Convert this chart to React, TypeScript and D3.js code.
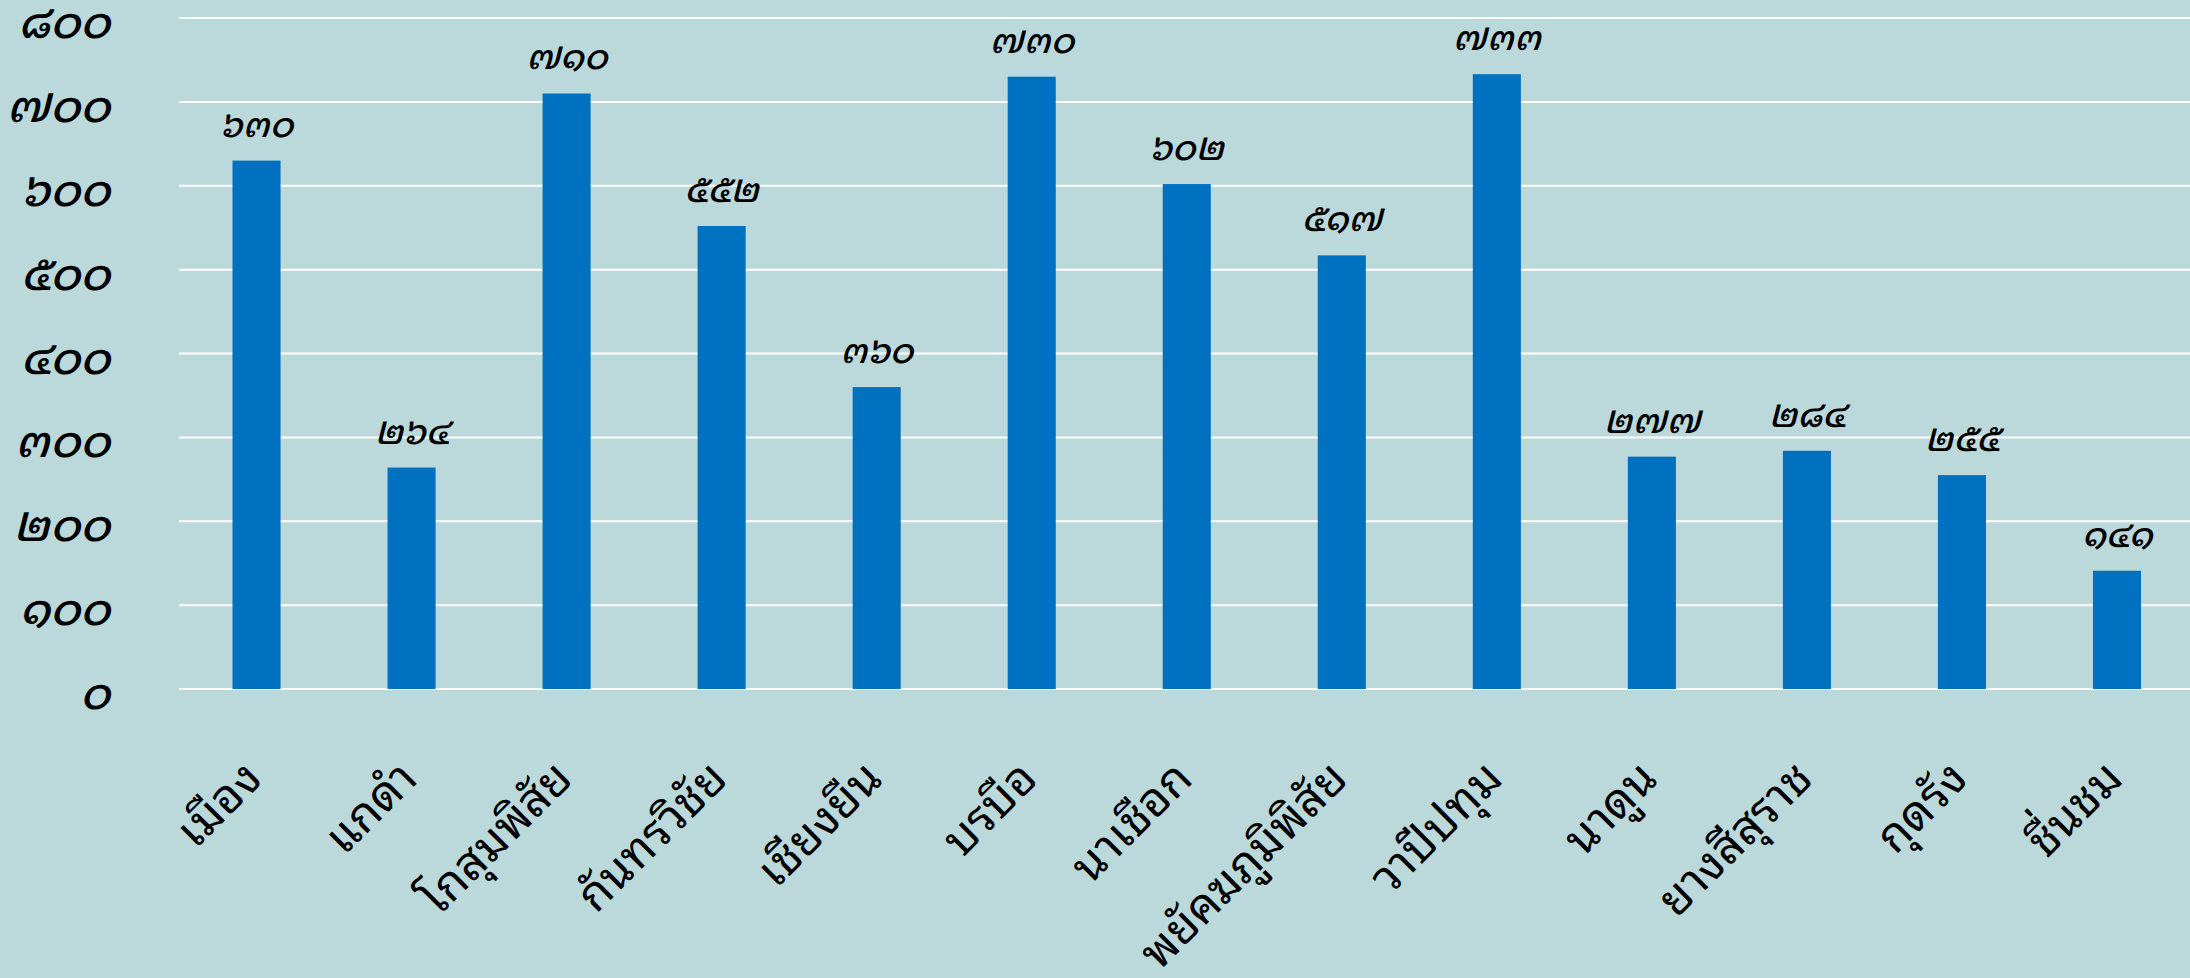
import React, { useEffect, useRef } from "react";
import * as d3 from "d3";

const categories = [
  "เมือง",
  "แกดำ",
  "โกสุมพิสัย",
  "กันทรวิชัย",
  "เชียงยืน",
  "บรบือ",
  "นาเชือก",
  "พยัคฆภูมิพิสัย",
  "วาปีปทุม",
  "นาดูน",
  "ยางสีสุราช",
  "กุดรัง",
  "ชื่นชม",
];
const values = [630, 264, 710, 552, 360, 730, 602, 517, 733, 277, 284, 255, 141];
const yTicks = [0, 100, 200, 300, 400, 500, 600, 700, 800];

const W = 2190;
const H = 978;
const THAI_FONT = "'Noto Sans Thai Looped', 'Noto Sans', sans-serif";

function thaiDigits(n: number): string {
  const d = "๐๑๒๓๔๕๖๗๘๙";
  return String(n).replace(/[0-9]/g, (c) => d[+c]);
}

export default function App() {
  const ref = useRef<SVGSVGElement | null>(null);

  useEffect(() => {
    const svg = d3.select(ref.current);
    svg.selectAll("*").remove();

    const left = 179;
    const right = 2194.5;
    const top = 18;
    const bottom = 689;

    const x = d3.scaleBand<string>().domain(categories).range([left, right]).paddingInner(0).paddingOuter(0);
    const y = d3.scaleLinear().domain([0, 800]).range([bottom, top]);
    const bw = x.bandwidth() * 0.31;

    svg.append("rect").attr("x", 0).attr("y", 0).attr("width", W).attr("height", H).attr("fill", "#BBD9DB");

    // gridlines
    svg
      .append("g")
      .selectAll("line")
      .data(yTicks)
      .join("line")
      .attr("x1", left)
      .attr("x2", W)
      .attr("y1", (d) => y(d))
      .attr("y2", (d) => y(d))
      .attr("stroke", "#ffffff")
      .attr("stroke-width", 2);

    // y tick labels
    svg
      .append("g")
      .selectAll("text")
      .data(yTicks)
      .join("text")
      .attr("x", 110)
      .attr("y", (d) => y(d) + 20)
      .attr("text-anchor", "end")
      .attr("font-family", THAI_FONT)
      .attr("font-style", "italic")
      .attr("font-weight", 500)
      .attr("font-size", 46)
      .attr("fill", "#000")
      .text((d) => thaiDigits(d));

    // bars
    svg
      .append("g")
      .selectAll("rect")
      .data(values)
      .join("rect")
      .attr("x", (d, i) => (x(categories[i]) as number) + x.bandwidth() / 2 - bw / 2)
      .attr("y", (d) => y(d))
      .attr("width", bw)
      .attr("height", (d) => bottom - y(d))
      .attr("fill", "#0070C0");

    // value labels
    svg
      .append("g")
      .selectAll("text")
      .data(values)
      .join("text")
      .attr("x", (d, i) => (x(categories[i]) as number) + x.bandwidth() / 2)
      .attr("y", (d) => y(d) - 24)
      .attr("text-anchor", "middle")
      .attr("font-family", THAI_FONT)
      .attr("font-style", "italic")
      .attr("font-weight", 500)
      .attr("font-size", 36)
      .attr("fill", "#000")
      .text((d) => thaiDigits(d));

    // x labels
    svg
      .append("g")
      .selectAll("text")
      .data(categories)
      .join("text")
      .attr("transform", (d) => `translate(${(x(d) as number) + x.bandwidth() / 2 + 8},${781}) rotate(-45)`)
      .attr("text-anchor", "end")
      .attr("font-family", THAI_FONT)
      .attr("font-weight", 400)
      .attr("font-size", 47)
      .attr("fill", "#000")
      .text((d) => d);
  }, []);

  return (
    <svg
      ref={ref}
      width={W}
      height={H}
      style={{ position: "absolute", left: 0, top: 0, display: "block" }}
    />
  );
}
